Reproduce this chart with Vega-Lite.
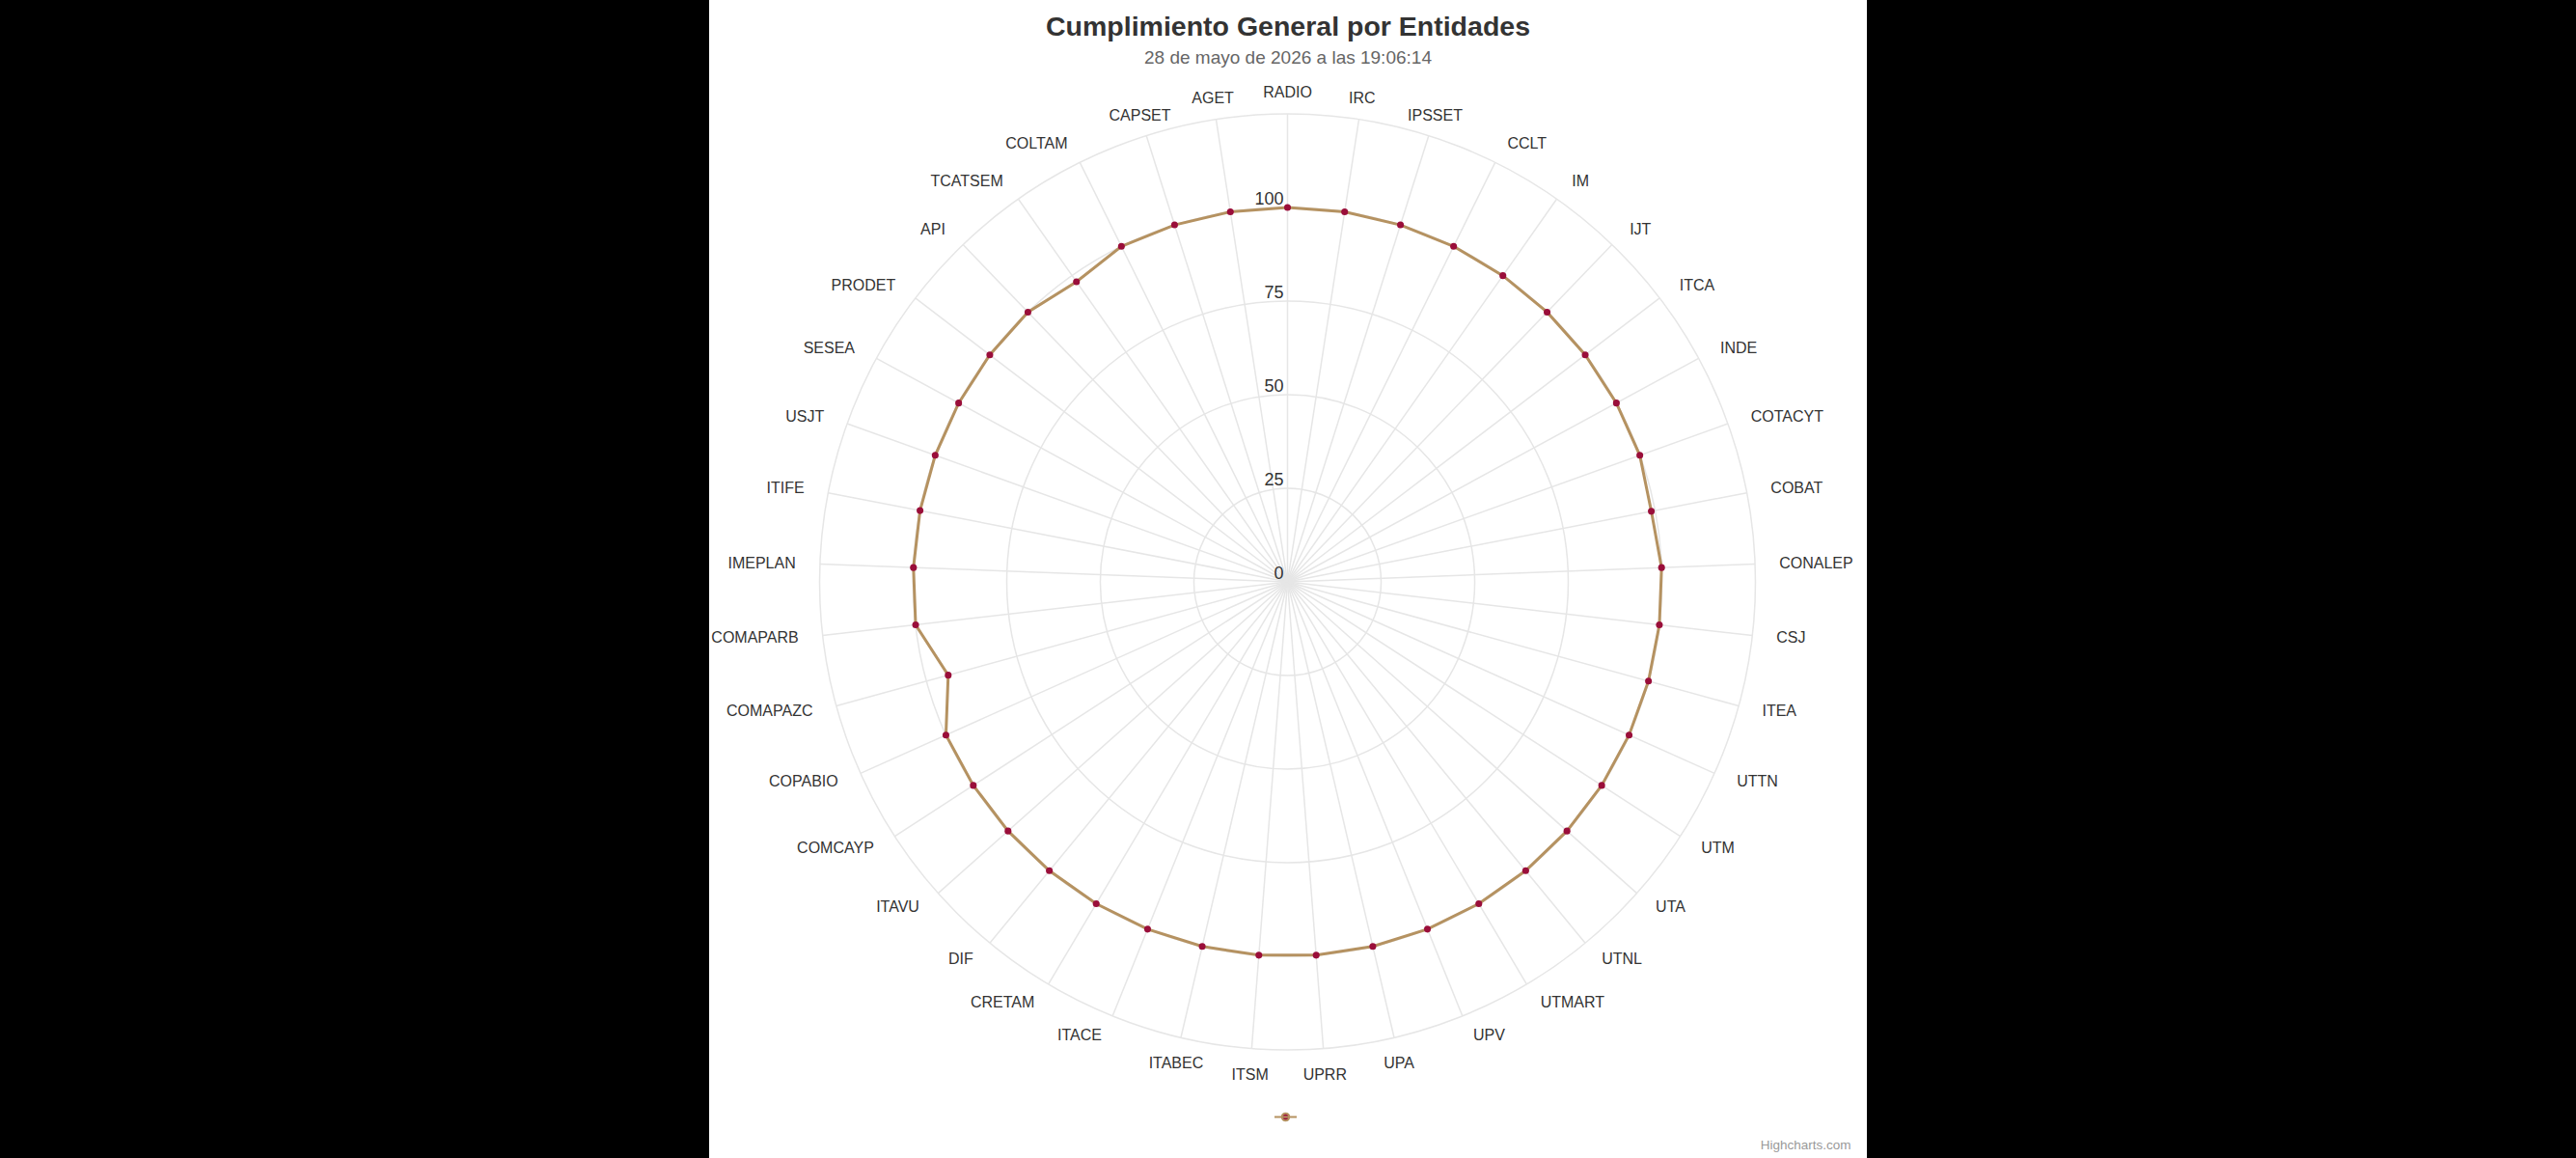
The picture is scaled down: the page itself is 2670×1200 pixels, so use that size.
{
  "$schema": "https://vega.github.io/schema/vega-lite/v6.json",
  "width": 1200,
  "height": 1200,
  "autosize": {"type": "none"},
  "padding": {"left": 735, "right": 735, "top": 0, "bottom": 0},
  "background": "#000000",
  "config": {
    "view": {"fill": "#ffffff", "stroke": null},
    "font": "Liberation Sans",
    "text": {"font": "Liberation Sans"},
    "axisX": {
      "labels": false, "ticks": false, "domain": false, "grid": false,
      "titleX": 1183, "titleY": -10, "titleAlign": "right", "titleBaseline": "alphabetic",
      "titleFontSize": 13.5, "titleColor": "#999999", "titleFontWeight": "normal", "titleFont": "Liberation Sans"
    }
  },
  "title": {
    "text": "Cumplimiento General por Entidades",
    "subtitle": "28 de mayo de 2026 a las 19:06:14",
    "anchor": "middle",
    "offset": -70,
    "font": "Liberation Sans",
    "fontSize": 28.5,
    "fontWeight": "bold",
    "color": "#333333",
    "subtitleFont": "Liberation Sans",
    "subtitleFontSize": 19,
    "subtitleColor": "#666666",
    "subtitlePadding": 9
  },
  "datasets": {
    "cats": [
      {"cat": "RADIO", "v": 100},
      {"cat": "IRC", "v": 100},
      {"cat": "IPSSET", "v": 100},
      {"cat": "CCLT", "v": 100},
      {"cat": "IM", "v": 100},
      {"cat": "IJT", "v": 100},
      {"cat": "ITCA", "v": 100},
      {"cat": "INDE", "v": 100},
      {"cat": "COTACYT", "v": 100},
      {"cat": "COBAT", "v": 99},
      {"cat": "CONALEP", "v": 100},
      {"cat": "CSJ", "v": 100},
      {"cat": "ITEA", "v": 100},
      {"cat": "UTTN", "v": 100},
      {"cat": "UTM", "v": 100},
      {"cat": "UTA", "v": 100},
      {"cat": "UTNL", "v": 100},
      {"cat": "UTMART", "v": 100},
      {"cat": "UPV", "v": 100},
      {"cat": "UPA", "v": 100},
      {"cat": "UPRR", "v": 100},
      {"cat": "ITSM", "v": 100},
      {"cat": "ITABEC", "v": 100},
      {"cat": "ITACE", "v": 100},
      {"cat": "CRETAM", "v": 100},
      {"cat": "DIF", "v": 100},
      {"cat": "ITAVU", "v": 100},
      {"cat": "COMCAYP", "v": 100},
      {"cat": "COPABIO", "v": 100},
      {"cat": "COMAPAZC", "v": 94},
      {"cat": "COMAPARB", "v": 100},
      {"cat": "IMEPLAN", "v": 100},
      {"cat": "ITIFE", "v": 100},
      {"cat": "USJT", "v": 100},
      {"cat": "SESEA", "v": 100},
      {"cat": "PRODET", "v": 100},
      {"cat": "API", "v": 100},
      {"cat": "TCATSEM", "v": 98},
      {"cat": "COLTAM", "v": 100},
      {"cat": "CAPSET", "v": 100},
      {"cat": "AGET", "v": 100}
    ],
    "rings": [{"t": 25}, {"t": 50}, {"t": 75}, {"t": 100}, {"t": 125}],
    "ticks": [{"t": 0}, {"t": 25}, {"t": 50}, {"t": 75}, {"t": 100}]
  },
  "layer": [
    {
      "data": {"name": "rings"},
      "mark": {"type": "arc", "filled": false, "stroke": "#e6e6e6", "strokeWidth": 1.5},
      "encoding": {
        "x": {"datum": 0, "type": "quantitative", "scale": {"domain": [-154.51, 154.77], "nice": false, "zero": false}, "axis": {"title": "Highcharts.com"}},
        "y": {"datum": 0, "type": "quantitative", "scale": {"domain": [-153.87, 155.41], "nice": false, "zero": false}, "axis": null},
        "radius": {"field": "t", "type": "quantitative", "stack": null, "scale": {"type": "linear", "domain": [0, 125], "range": [0, 485], "zero": true}}
      }
    },
    {
      "data": {"name": "cats"},
      "transform": [
        {"window": [{"op": "row_number", "as": "rn"}]},
        {"joinaggregate": [{"op": "count", "as": "n"}]},
        {"calculate": "2*PI*(datum.rn-1)/datum.n", "as": "ang"},
        {"calculate": "datum.v*sin(datum.ang)", "as": "px"},
        {"calculate": "datum.v*cos(datum.ang)", "as": "py"},
        {"calculate": "125*sin(datum.ang)", "as": "ex"},
        {"calculate": "125*cos(datum.ang)", "as": "ey"},
        {"calculate": "130.7*sin(datum.ang)", "as": "lx"},
        {"calculate": "130.7*cos(datum.ang)", "as": "ly"},
        {"calculate": "datum.ang*180/PI", "as": "deg"}
      ],
      "layer": [
        {
          "mark": {"type": "rule", "stroke": "#e6e6e6", "strokeWidth": 1.5},
          "encoding": {
            "x": {"field": "ex", "type": "quantitative", "scale": {"domain": [-154.51, 154.77], "nice": false, "zero": false}, "axis": {"title": "Highcharts.com"}},
            "y": {"field": "ey", "type": "quantitative", "scale": {"domain": [-153.87, 155.41], "nice": false, "zero": false}, "axis": null},
            "x2": {"datum": 0},
            "y2": {"datum": 0}
          }
        },
        {
          "mark": {"type": "line", "interpolate": "linear-closed", "strokeWidth": 3},
          "encoding": {
            "x": {"field": "px", "type": "quantitative", "scale": {"domain": [-154.51, 154.77], "nice": false, "zero": false}, "axis": {"title": "Highcharts.com"}},
            "y": {"field": "py", "type": "quantitative", "scale": {"domain": [-153.87, 155.41], "nice": false, "zero": false}, "axis": null},
            "order": {"field": "rn", "type": "quantitative"},
            "color": {"datum": "Cumplimiento", "scale": {"range": ["#b59261"]},
              "legend": {"orient": "none", "legendX": 585, "legendY": 1145, "title": null, "padding": 0,
                "symbolType": "M-1,0L1,0M-0.33,0A0.33,0.33,0,1,0,0.33,0A0.33,0.33,0,1,0,-0.33,0Z",
                "symbolSize": 529, "symbolStrokeWidth": 2, "symbolFillColor": "#9a0e3a", "labelOpacity": 0,
                "encode": {"symbols": {"update": {"fill": {"value": "#9a0e3a"}, "stroke": {"value": "#b59261"}, "strokeWidth": {"value": 2}}}}}}
          }
        },
        {
          "mark": {"type": "point", "filled": true, "color": "#9a0e3a", "size": 50, "opacity": 1},
          "encoding": {
            "x": {"field": "px", "type": "quantitative", "scale": {"domain": [-154.51, 154.77], "nice": false, "zero": false}, "axis": {"title": "Highcharts.com"}},
            "y": {"field": "py", "type": "quantitative", "scale": {"domain": [-153.87, 155.41], "nice": false, "zero": false}, "axis": null}
          }
        },
        {
          "transform": [{"filter": "datum.deg < 20 || datum.deg > 340"}],
          "mark": {"type": "text", "align": "center", "baseline": "middle", "fontSize": 16, "color": "#333333"},
          "encoding": {
            "x": {"field": "lx", "type": "quantitative", "scale": {"domain": [-154.51, 154.77], "nice": false, "zero": false}, "axis": {"title": "Highcharts.com"}},
            "y": {"field": "ly", "type": "quantitative", "scale": {"domain": [-153.87, 155.41], "nice": false, "zero": false}, "axis": null},
            "text": {"field": "cat"}
          }
        },
        {
          "transform": [{"filter": "datum.deg > 160 && datum.deg < 200"}],
          "mark": {"type": "text", "align": "center", "baseline": "middle", "dy": 5, "fontSize": 16, "color": "#333333"},
          "encoding": {
            "x": {"field": "lx", "type": "quantitative", "scale": {"domain": [-154.51, 154.77], "nice": false, "zero": false}, "axis": {"title": "Highcharts.com"}},
            "y": {"field": "ly", "type": "quantitative", "scale": {"domain": [-153.87, 155.41], "nice": false, "zero": false}, "axis": null},
            "text": {"field": "cat"}
          }
        },
        {
          "transform": [{"filter": "datum.deg >= 20 && datum.deg <= 160"}],
          "mark": {"type": "text", "align": "left", "baseline": "middle", "dx": 3, "fontSize": 16, "color": "#333333"},
          "encoding": {
            "x": {"field": "lx", "type": "quantitative", "scale": {"domain": [-154.51, 154.77], "nice": false, "zero": false}, "axis": {"title": "Highcharts.com"}},
            "y": {"field": "ly", "type": "quantitative", "scale": {"domain": [-153.87, 155.41], "nice": false, "zero": false}, "axis": null},
            "text": {"field": "cat"}
          }
        },
        {
          "transform": [{"filter": "datum.deg >= 200 && datum.deg <= 340"}],
          "mark": {"type": "text", "align": "right", "baseline": "middle", "dx": -3, "fontSize": 16, "color": "#333333"},
          "encoding": {
            "x": {"field": "lx", "type": "quantitative", "scale": {"domain": [-154.51, 154.77], "nice": false, "zero": false}, "axis": {"title": "Highcharts.com"}},
            "y": {"field": "ly", "type": "quantitative", "scale": {"domain": [-153.87, 155.41], "nice": false, "zero": false}, "axis": null},
            "text": {"field": "cat"}
          }
        }
      ]
    },
    {
      "data": {"name": "ticks"},
      "mark": {"type": "text", "align": "right", "baseline": "alphabetic", "dx": -4, "dy": -3, "fontSize": 18, "color": "#333333"},
      "encoding": {
        "x": {"datum": 0, "type": "quantitative", "scale": {"domain": [-154.51, 154.77], "nice": false, "zero": false}, "axis": {"title": "Highcharts.com"}},
        "y": {"field": "t", "type": "quantitative", "scale": {"domain": [-153.87, 155.41], "nice": false, "zero": false}, "axis": null},
        "text": {"field": "t", "type": "quantitative"}
      }
    }
  ]
}
